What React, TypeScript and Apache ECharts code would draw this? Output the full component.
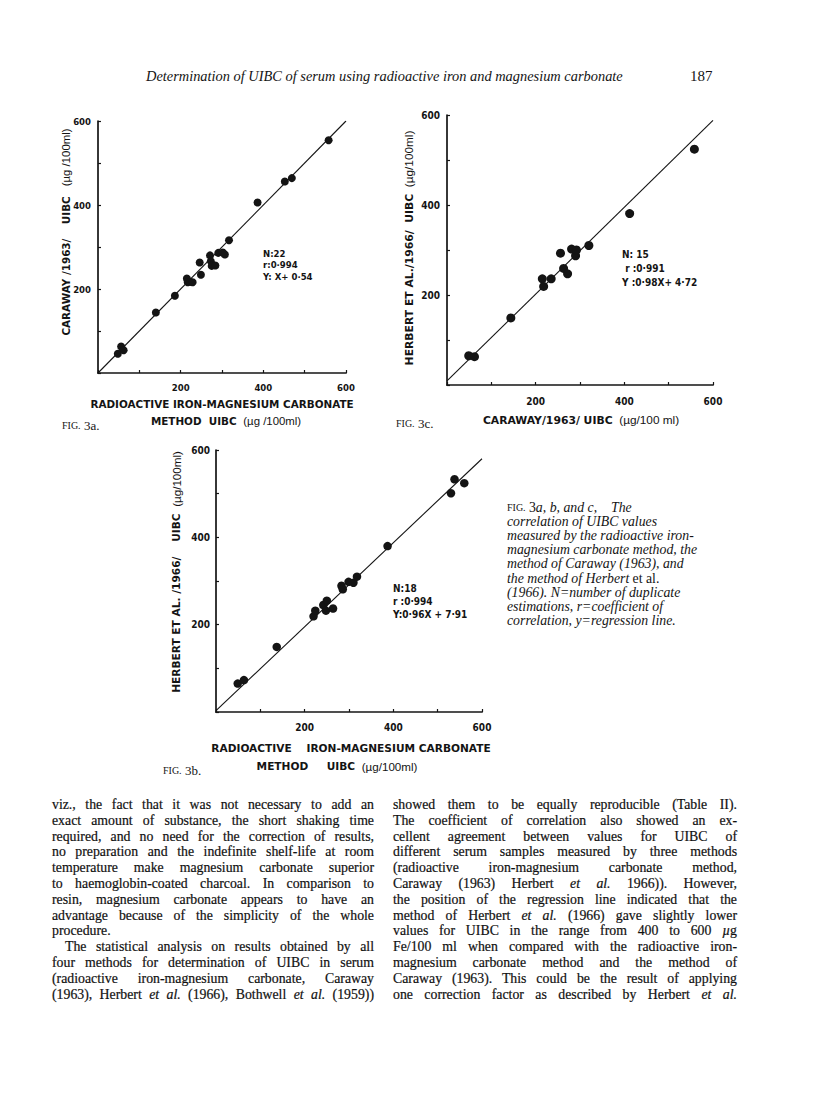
import React, { useEffect, useRef } from "react";
import * as echarts from "echarts";

// ---------- data ----------
const labelledTicks = [200, 400, 600];

// Fig. 3a: radioactive iron-magnesium carbonate (x) vs Caraway 1963 (y)
const fig3aX = [48, 56, 62, 140, 186, 215, 217, 223, 229, 246, 249, 271, 273, 275, 284, 291, 302, 307, 317, 386, 452, 469, 558];
const fig3aY = [46, 63, 54, 144, 184, 225, 216, 217, 216, 263, 234, 280, 266, 255, 256, 286, 287, 282, 316, 406, 456, 464, 554];
const fig3aLineX = [0, 600];
const fig3aLineY = [0, 600];
const fig3aStats = ["N:22", "r:0·994", "Y: X+ 0·54"];

// Fig. 3c: Caraway 1963 (x) vs Herbert et al. 1966 (y)
const fig3cX = [49, 62, 144, 215, 218, 235, 256, 263, 272, 281, 290, 292, 320, 412, 558];
const fig3cY = [65, 63, 149, 236, 219, 236, 293, 259, 247, 302, 287, 300, 310, 381, 524];
const fig3cLineX = [0, 600];
const fig3cLineY = [9, 588];
const fig3cStats = ["N: 15", " r :0·991", "Y :0·98X+ 4·72"];

// Fig. 3b: radioactive iron-magnesium carbonate (x) vs Herbert et al. 1966 (y)
const fig3bX = [49, 63, 137, 220, 224, 242, 248, 250, 264, 283, 286, 299, 310, 318, 387, 530, 538, 560];
const fig3bY = [65, 73, 149, 219, 232, 245, 232, 255, 237, 289, 281, 298, 296, 310, 380, 501, 533, 524];
const fig3bLineX = [0, 600];
const fig3bLineY = [3, 580];
const fig3bStats = ["N:18", "r :0·994", "Y:0·96X + 7·91"];

const headerText = "Determination of UIBC of serum using radioactive iron and magnesium carbonate";
const pageNumber = "187";

const captionLines = [
  "{sc|FIG.} {r|3}{i|a, b, and c,    The}",
  "{i|correlation of UIBC values}",
  "{i|measured by the radioactive iron-}",
  "{i|magnesium carbonate method, the}",
  "{i|method of Caraway (1963), and}",
  "{i|the method of Herbert} {r|et al.}",
  "{i|(1966). N=number of duplicate}",
  "{i|estimations, r=coefficient of}",
  "{i|correlation, y=regression line.}",
];

// body text: _..._ marks italics; [L] = left aligned paragraph end; [I] = indent
const leftColumn = [
  "viz., the fact that it was not necessary to add an",
  "exact amount of substance, the short shaking time",
  "required, and no need for the correction of results,",
  "no preparation and the indefinite shelf-life at room",
  "temperature make magnesium carbonate superior",
  "to haemoglobin-coated charcoal. In comparison to",
  "resin, magnesium carbonate appears to have an",
  "advantage because of the simplicity of the whole",
  "[L]procedure.",
  "[I]The statistical analysis on results obtained by all",
  "four methods for determination of UIBC in serum",
  "(radioactive iron-magnesium carbonate, Caraway",
  "(1963), Herbert _et al._ (1966), Bothwell _et al._ (1959))",
];
const rightColumn = [
  "showed them to be equally reproducible (Table II).",
  "The coefficient of correlation also showed an ex-",
  "cellent agreement between values for UIBC of",
  "different serum samples measured by three methods",
  "(radioactive iron-magnesium carbonate method,",
  "Caraway (1963) Herbert _et al._ 1966)). However,",
  "the position of the regression line indicated that the",
  "method of Herbert _et al._ (1966) gave slightly lower",
  "values for UIBC in the range from 400 to 600 _µ_g",
  "Fe/100 ml when compared with the radioactive iron-",
  "magnesium carbonate method and the method of",
  "Caraway (1963). This could be the result of applying",
  "one correction factor as described by Herbert _et al._",
];

// ---------- helpers ----------
const INK = "#141414";
const TICK_FONT = '"DejaVu Sans Condensed", "DejaVu Sans", sans-serif';
const TITLE_FONT = '"DejaVu Sans", sans-serif';
const LIGHT_FONT = '"Liberation Sans", Arial, sans-serif';
const SERIF = '"Liberation Serif", "Times New Roman", serif';

const zip = (xs: number[], ys: number[]) => xs.map((x, i) => [x, ys[i]]);

const axis = (gridIndex: number, margin: number, fontSize: number) => ({
  gridIndex,
  type: "value",
  min: 0,
  max: 600,
  interval: 100,
  axisLine: { show: true, onZero: false, lineStyle: { color: INK, width: 1.7 } },
  axisTick: { show: true, inside: true, length: 3, lineStyle: { color: INK, width: 1.2 } },
  axisLabel: {
    margin,
    color: INK,
    fontFamily: TICK_FONT,
    fontWeight: "bold",
    fontSize,
    formatter: (v: number) => (labelledTicks.includes(v) ? String(v) : ""),
  },
  splitLine: { show: false },
});

const txt = (x: number, y: number, text: string, style: any, extra: any = {}) => ({
  type: "text",
  x,
  y,
  ...extra,
  style: { text, fill: INK, verticalAlign: "middle", ...style },
});

const richTitle = (size: number) => ({
  b: { font: `bold ${size}px ${TITLE_FONT}`, fill: INK, color: INK },
  n: { font: `${size + 1}px ${LIGHT_FONT}`, fill: INK, color: INK },
});

const statsBlock = (x: number, ys: number[], lines: string[], size: number) =>
  lines.map((l, i) => txt(x, ys[i], l, { font: `bold ${size}px ${TICK_FONT}`, align: "left" }));

const figLabel = (x: number, y: number, id: string) =>
  txt(x, y, `{s|FIG.} {n|${id}}`, {
    align: "left",
    rich: {
      s: { font: `10px ${SERIF}`, fill: INK },
      n: { font: `13px ${SERIF}`, fill: INK },
    },
  });

const renderLine = (line: string) => {
  const parts = line.split("_");
  return parts.map((p, i) => (i % 2 === 1 ? <i key={i}>{p}</i> : <span key={i}>{p}</span>));
};

function BodyColumn({ lines, left, width, size }: { lines: string[]; left: number; width: number; size: number }) {
  return (
    <>
      {lines.map((raw, i) => {
        let line = raw;
        let align: any = "justify";
        let indent = 0;
        if (line.startsWith("[L]")) {
          line = line.slice(3);
          align = "left";
        }
        if (line.startsWith("[I]")) {
          line = line.slice(3);
          indent = 13;
        }
        return (
          <div
            key={i}
            style={{
              position: "absolute",
              left: left + indent,
              top: 805 + i * 15.8 - 9,
              width: width - indent,
              height: 18,
              lineHeight: "18px",
              fontFamily: SERIF,
              fontSize: size,
              color: "#111",
              WebkitTextStroke: "0.2px #111",
              textAlign: align,
              textAlignLast: align,
              whiteSpace: "nowrap",
              overflow: "visible",
            }}
          >
            {renderLine(line)}
          </div>
        );
      })}
    </>
  );
}

export default function App() {
  const ref = useRef<HTMLDivElement>(null);

  useEffect(() => {
    if (!ref.current) return;
    const chart = echarts.init(ref.current, null, { renderer: "svg" });

    const scatter = (idx: number, xs: number[], ys: number[], size: number) => ({
      type: "scatter",
      xAxisIndex: idx,
      yAxisIndex: idx,
      data: zip(xs, ys),
      symbolSize: size,
      itemStyle: { color: INK, opacity: 1 },
      z: 3,
    });
    const regLine = (idx: number, xs: number[], ys: number[]) => ({
      type: "line",
      xAxisIndex: idx,
      yAxisIndex: idx,
      data: zip(xs, ys),
      symbol: "none",
      lineStyle: { color: INK, width: 1.1 },
      z: 2,
    });

    const graphic: any[] = [
      // header
      txt(146, 76, headerText, { font: `italic 14.4px ${SERIF}`, align: "left" }),
      txt(690, 76, pageNumber, { font: `15px ${SERIF}`, align: "left" }),

      // ---- Fig 3a ----
      txt(222, 404, "RADIOACTIVE IRON-MAGNESIUM CARBONATE", { font: `bold 10.4px ${TITLE_FONT}`, align: "center" }),
      txt(226, 421, "{b|METHOD  UIBC}  {n|(µg /100ml)}", { align: "center", rich: richTitle(10.4) }),
      txt(66, 232, "{b|CARAWAY /1963/    UIBC}   {n|(µg /100ml)}", { align: "center", rich: richTitle(10.4) }, { rotation: Math.PI / 2 }),
      figLabel(62, 425, "3a."),
      ...statsBlock(263, [253, 264.5, 276], fig3aStats, 9.5),

      // ---- Fig 3c ----
      txt(581, 420, "{b|CARAWAY/1963/ UIBC}  {n|(µg/100 ml)}", { align: "center", rich: richTitle(10.8) }),
      txt(409, 248, "{b|HERBERT ET AL./1966/  UIBC}  {n|(µg/100ml)}", { align: "center", rich: richTitle(10.8) }, { rotation: Math.PI / 2 }),
      figLabel(396, 423, "3c."),
      ...statsBlock(622, [254, 268, 282], fig3cStats, 10),

      // ---- Fig 3b ----
      txt(351, 748, "RADIOACTIVE    IRON-MAGNESIUM CARBONATE", { font: `bold 10.6px ${TITLE_FONT}`, align: "center" }),
      txt(337, 766, "{b|METHOD     UIBC}  {n|(µg/100ml)}", { align: "center", rich: richTitle(10.6) }),
      txt(176, 572, "{b|HERBERT ET AL. /1966/    UIBC}  {n|(µg/100ml)}", { align: "center", rich: richTitle(10.6) }, { rotation: Math.PI / 2 }),
      figLabel(163, 770, "3b."),
      ...statsBlock(393, [588, 601, 614], fig3bStats, 10),

      // caption
      ...captionLines.map((l, i) =>
        txt(507, 507 + i * 14.2, l, {
          align: "left",
          rich: {
            sc: { font: `10px ${SERIF}`, fill: INK },
            r: { font: `13.8px ${SERIF}`, fill: INK },
            i: { font: `italic 13.8px ${SERIF}`, fill: INK },
          },
        })
      ),
    ];

    chart.setOption({
      animation: false,
      backgroundColor: "#ffffff",
      grid: [
        { left: 98, top: 121, width: 248, height: 252 },
        { left: 447, top: 115, width: 266, height: 270 },
        { left: 216, top: 450, width: 266, height: 262 },
      ],
      xAxis: [axis(0, 9, 9.5), axis(1, 11, 10), axis(2, 10, 10)],
      yAxis: [axis(0, 7, 9.5), axis(1, 7, 10), axis(2, 6, 10)],
      series: [
        regLine(0, fig3aLineX, fig3aLineY),
        scatter(0, fig3aX, fig3aY, 8),
        regLine(1, fig3cLineX, fig3cLineY),
        scatter(1, fig3cX, fig3cY, 9),
        regLine(2, fig3bLineX, fig3bLineY),
        scatter(2, fig3bX, fig3bY, 8.5),
      ],
      graphic,
    });

    return () => chart.dispose();
  }, []);

  return (
    <div style={{ position: "absolute", left: 0, top: 0, width: 816, height: 1118, background: "#fff" }}>
      <div ref={ref} style={{ position: "absolute", left: 0, top: 0, width: 816, height: 1118 }} />
      <BodyColumn lines={leftColumn} left={52} width={322} size={13.8} />
      <BodyColumn lines={rightColumn} left={393} width={344} size={13.8} />
    </div>
  );
}
